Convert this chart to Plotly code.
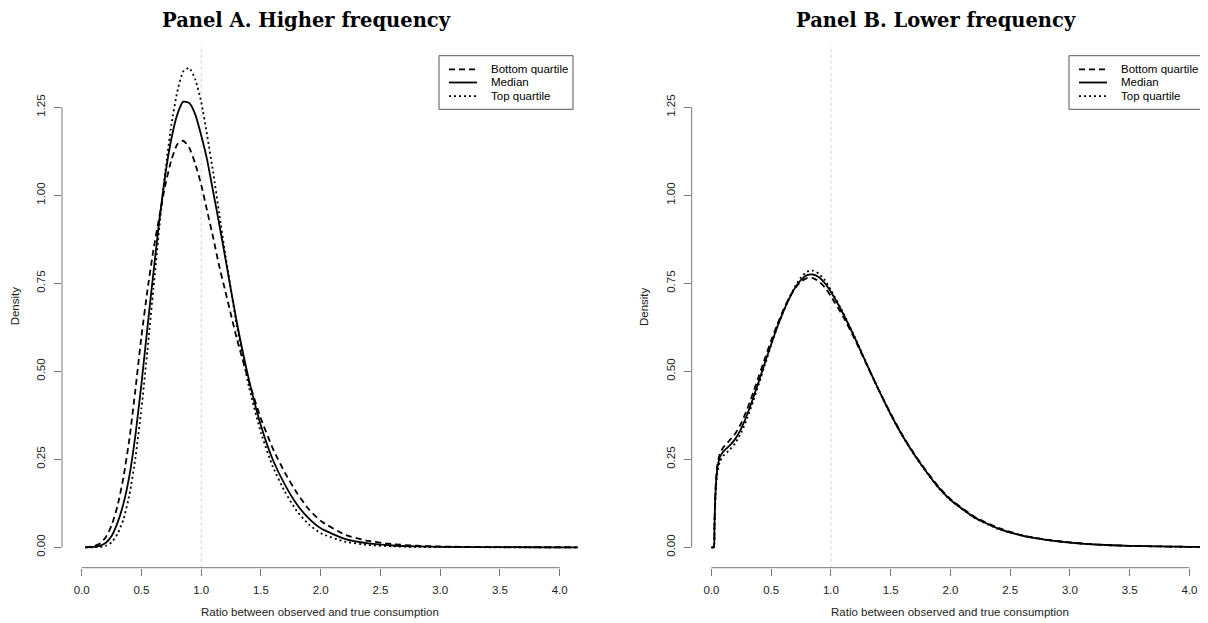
import plotly.graph_objects as go

# ---------------- data ----------------
series_names = ["Bottom quartile", "Median", "Top quartile"]
panel_titles = ["Panel A. Higher frequency", "Panel B. Lower frequency"]
x_title = "Ratio between observed and true consumption"
y_title = "Density"
x_ticks = [0.0, 0.5, 1.0, 1.5, 2.0, 2.5, 3.0, 3.5, 4.0]
y_ticks = [0.00, 0.25, 0.50, 0.75, 1.00, 1.25]
ref_line = 1.0

xa = [0.03, 0.1, 0.15, 0.2, 0.25, 0.3, 0.35, 0.4, 0.45, 0.5, 0.55, 0.6, 0.65, 0.7,
      0.75, 0.8, 0.85, 0.9, 0.95, 1.0, 1.05, 1.1, 1.15, 1.2, 1.3, 1.4, 1.5, 1.6,
      1.7, 1.8, 1.9, 2.0, 2.2, 2.4, 2.6, 2.8, 3.0, 3.5, 4.0, 4.15]
a_bottom = [0, 0.003, 0.01, 0.028, 0.062, 0.118, 0.2, 0.31, 0.45, 0.6, 0.73, 0.845,
            0.94, 1.03, 1.10, 1.145, 1.155, 1.135, 1.09, 1.03, 0.955, 0.88, 0.80,
            0.73, 0.59, 0.47, 0.365, 0.28, 0.212, 0.155, 0.108, 0.075, 0.036,
            0.018, 0.009, 0.0045, 0.0022, 0.0004, 0.0001, 0]
a_median = [0, 0.001, 0.004, 0.012, 0.032, 0.07, 0.125, 0.205, 0.32, 0.465, 0.625,
            0.78, 0.93, 1.06, 1.16, 1.23, 1.266, 1.262, 1.23, 1.17, 1.10, 1.01,
            0.92, 0.825, 0.635, 0.475, 0.345, 0.248, 0.178, 0.122, 0.082, 0.054,
            0.024, 0.011, 0.005, 0.0024, 0.0012, 0.0002, 0, 0]
a_top = [0, 0.0002, 0.001, 0.004, 0.014, 0.038, 0.08, 0.15, 0.255, 0.395, 0.56,
         0.735, 0.91, 1.07, 1.2, 1.295, 1.352, 1.362, 1.33, 1.265, 1.17, 1.065,
         0.95, 0.835, 0.625, 0.455, 0.325, 0.228, 0.158, 0.103, 0.065, 0.04,
         0.016, 0.0065, 0.0027, 0.0011, 0.0005, 0.0001, 0, 0]

xb = [0.0, 0.02, 0.025, 0.03, 0.04, 0.05, 0.07, 0.1, 0.15, 0.2, 0.25, 0.3, 0.35,
      0.4, 0.45, 0.5, 0.55, 0.6, 0.65, 0.7, 0.75, 0.8, 0.85, 0.9, 0.95, 1.0, 1.1,
      1.2, 1.3, 1.4, 1.5, 1.6, 1.7, 1.8, 1.9, 2.0, 2.2, 2.4, 2.6, 2.8, 3.0, 3.2,
      3.5, 4.0, 4.15]
b_bottom = [0, 0, 0.055, 0.13, 0.2, 0.235, 0.265, 0.284, 0.303, 0.323, 0.353, 0.393,
            0.44, 0.489, 0.539, 0.587, 0.632, 0.673, 0.708, 0.736, 0.755, 0.765,
            0.765, 0.755, 0.738, 0.713, 0.657, 0.591, 0.518, 0.447, 0.38, 0.318,
            0.264, 0.216, 0.172, 0.137, 0.087, 0.055, 0.034, 0.022, 0.014, 0.008,
            0.004, 0.0012, 0.0008]
b_median = [0, 0, 0.05, 0.12, 0.19, 0.225, 0.255, 0.272, 0.288, 0.308, 0.338, 0.378,
            0.425, 0.475, 0.527, 0.577, 0.625, 0.668, 0.706, 0.737, 0.76, 0.773,
            0.775, 0.767, 0.75, 0.725, 0.665, 0.595, 0.52, 0.447, 0.378, 0.316,
            0.262, 0.214, 0.17, 0.135, 0.085, 0.053, 0.033, 0.021, 0.013, 0.008,
            0.004, 0.0012, 0.0008]
b_top = [0, 0, 0.045, 0.11, 0.18, 0.213, 0.243, 0.26, 0.276, 0.296, 0.326, 0.367,
         0.416, 0.467, 0.521, 0.574, 0.624, 0.668, 0.708, 0.741, 0.767, 0.783,
         0.786, 0.777, 0.759, 0.731, 0.668, 0.597, 0.521, 0.447, 0.377, 0.315,
         0.261, 0.213, 0.169, 0.134, 0.084, 0.052, 0.033, 0.021, 0.013, 0.008,
         0.004, 0.0012, 0.0008]

# ---------------- layout constants ----------------
OFF = 8                      # default page margin around the plot div
W, H = 1208 - OFF, 623 - OFF
dashes = ["6px,4px", "solid", "2px,3px"]
LINE_W = 1.8
SANS = "Liberation Sans, Arial, sans-serif"
SERIF = "DejaVu Serif, serif"
AXIS_COL = "#777777"
TXT_COL = "#222222"


def px(x):
    """window pixel x -> paper fraction"""
    return (x - OFF) / W


def py(y):
    """window pixel y -> paper fraction"""
    return 1 - (y - OFF) / H


panels = [
    dict(left=62, right=578, title_x=306, legend_left=439, xax="x", yax="y"),
    dict(left=691.7, right=1207.7, title_x=936, legend_left=1069, xax="x2", yax="y2"),
]
plot_top, plot_bottom = 45, 567.7
x_range = [-0.165, 4.153]
y_range = [-0.058, 1.427]

fig = go.Figure()
data_sets = [(xa, [a_bottom, a_median, a_top]), (xb, [b_bottom, b_median, b_top])]

for p, (xs, ys) in zip(panels, data_sets):
    for name, yv, dash in zip(series_names, ys, dashes):
        fig.add_trace(go.Scatter(
            x=xs, y=yv, mode="lines", name=name, showlegend=False,
            line=dict(color="black", width=LINE_W, dash=dash, shape="spline", smoothing=0.5),
            xaxis=p["xax"], yaxis=p["yax"], hoverinfo="skip"))

shapes = []
annotations = []
layout_axes = {}
for i, p in enumerate(panels):
    sfx = "" if i == 0 else str(i + 1)
    xa_name = "xaxis" + sfx
    ya_name = "yaxis" + sfx
    right = min(p["right"], 1208)
    layout_axes[xa_name] = dict(
        domain=[px(p["left"]), min(1.0, px(right))], range=x_range, anchor=p["yax"],
        showgrid=False, zeroline=False, showline=False, ticks="outside", ticklen=7,
        tickwidth=1, tickcolor=AXIS_COL, tickvals=x_ticks, tickformat=".1f",
        tickfont=dict(family=SANS, size=11.5, color=TXT_COL), ticklabelstandoff=4,
        fixedrange=True)
    layout_axes[ya_name] = dict(
        domain=[py(plot_bottom), py(plot_top)], range=y_range, anchor=p["xax"],
        showgrid=False, zeroline=False, showline=False, ticks="outside", ticklen=7,
        tickwidth=1, tickcolor=AXIS_COL, tickvals=y_ticks, tickformat=".2f",
        tickangle=-90, tickfont=dict(family=SANS, size=11.5, color=TXT_COL),
        ticklabelstandoff=4, fixedrange=True)
    xr, yr = p["xax"], p["yax"]
    # R-style axis lines (only spanning the tick range)
    shapes.append(dict(type="line", xref=xr, yref=yr + " domain", x0=x_ticks[0],
                       x1=x_ticks[-1], y0=0, y1=0, line=dict(color=AXIS_COL, width=1)))
    shapes.append(dict(type="line", xref=xr + " domain", yref=yr, x0=0, x1=0,
                       y0=y_ticks[0], y1=y_ticks[-1], line=dict(color=AXIS_COL, width=1)))
    # reference line at ratio 1
    shapes.append(dict(type="line", xref=xr, yref=yr + " domain", x0=ref_line, x1=ref_line,
                       y0=0, y1=1, line=dict(color="#cfcfcf", width=1, dash="dot"),
                       layer="below"))
    # titles
    annotations.append(dict(text="<b>" + panel_titles[i] + "</b>", x=px(p["title_x"]),
                            y=py(20), xref="paper", yref="paper", showarrow=False,
                            xanchor="center", yanchor="middle",
                            font=dict(family=SERIF, size=19.5, color="black")))
    annotations.append(dict(text=x_title, x=px((p["left"] + p["right"]) / 2), y=py(612),
                            xref="paper", yref="paper", showarrow=False, xanchor="center",
                            yanchor="middle", font=dict(family=SANS, size=11.5, color=TXT_COL)))
    annotations.append(dict(text=y_title, x=px(p["left"] - 47), y=py((plot_top + plot_bottom) / 2),
                            xref="paper", yref="paper", showarrow=False, xanchor="center",
                            yanchor="middle", textangle=-90,
                            font=dict(family=SANS, size=11.5, color=TXT_COL)))
    # legend box
    L = p["legend_left"]
    top, bot = 55.7, 109.3
    shapes.append(dict(type="rect", xref="paper", yref="paper", x0=px(L), x1=px(L + 134),
                       y0=py(bot), y1=py(top), line=dict(color="#555555", width=1),
                       fillcolor="white"))
    rows = [69.3, 82.5, 96.2]
    for name, dash, ry in zip(series_names, dashes, rows):
        shapes.append(dict(type="line", xref="paper", yref="paper", x0=px(L + 10),
                           x1=px(L + 38), y0=py(ry), y1=py(ry),
                           line=dict(color="black", width=LINE_W, dash=dash)))
        annotations.append(dict(text=name, x=px(L + 50), y=py(ry), xref="paper",
                                yref="paper", showarrow=False, xanchor="left",
                                yanchor="middle",
                                font=dict(family=SANS, size=11.5, color="black")))

fig.update_layout(
    width=W, height=H, autosize=False,
    margin=dict(l=0, r=0, t=0, b=0, pad=0),
    paper_bgcolor="white", plot_bgcolor="white",
    shapes=shapes, annotations=annotations, showlegend=False,
    **layout_axes)

fig.write_html("out.html")
